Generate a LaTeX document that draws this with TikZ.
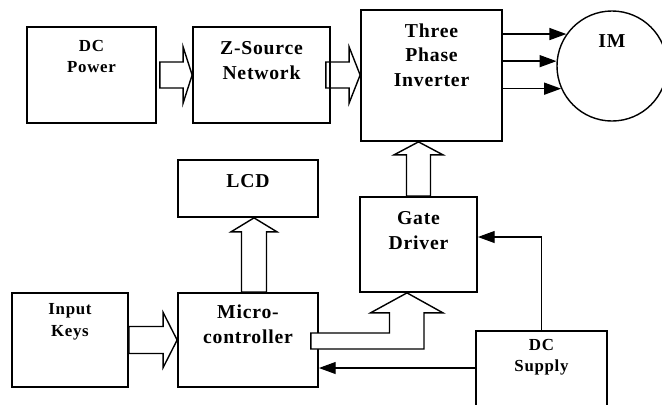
\documentclass[tikz,border=0pt]{standalone}
\usepackage{fontspec}
\setmainfont{Liberation Serif}[LetterSpace=4]
\usepackage{tikz}
\usetikzlibrary{arrows.meta, calc}

\begin{document}
\begin{tikzpicture}[x=0.025cm, y=-0.025cm,
  box/.style={draw, line width=1.2pt, inner sep=0pt},
  big/.style={font=\fontsize{14}{17.5}\selectfont\bfseries, align=center},
  small/.style={font=\fontsize{12}{15}\selectfont\bfseries, align=center},
  hollow/.style={draw, line width=1pt, line join=miter},
  feed/.style={-{Triangle[length=12pt, width=8.5pt]}, line width=1pt}
]
\path[use as bounding box, clip] (0,0) rectangle (662,404);
\fill[white] (0,0) rectangle (662,404);

% power path
\node[box, minimum width=3.225cm, minimum height=2.4cm,
      label={[small, anchor=center, yshift=-0.76cm]north:{DC\\Power}}] (dcpower) at (91.5,75) {};
\node[box, minimum width=3.425cm, minimum height=2.4cm,
      label={[big, anchor=center, yshift=-0.86cm]north:{Z-Source\\Network}}] (zsrc) at (261.5,75) {};
\node[box, minimum width=3.525cm, minimum height=3.275cm,
      label={[big, anchor=center, yshift=-1.15cm]north:{Three\\Phase\\Inverter}}] (inv) at (431.5,75.5) {};
\node[draw, circle, line width=1pt, minimum size=2.75cm,
      label={[big, anchor=center, yshift=-0.775cm]north:IM}] (im) at (612,66) {};

% control path
\node[box, minimum width=3.5cm, minimum height=1.425cm,
      label={[big, anchor=center, yshift=-0.55cm]north:LCD}] (lcd) at (248,188.5) {};
\node[box, minimum width=3.5cm, minimum height=2.35cm,
      label={[big, anchor=center, yshift=-0.81cm]north:{Micro-\\controller}}] (micro) at (248,340) {};
\node[box, minimum width=2.9cm, minimum height=2.35cm,
      label={[small, anchor=center, yshift=-0.74cm]north:{Input\\Keys}}] (keys) at (70,340) {};
\node[box, minimum width=2.925cm, minimum height=2.375cm,
      label={[big, anchor=center, yshift=-0.86cm]north:{Gate\\Driver}}] (gate) at (418.5,244.5) {};
\node[box, minimum width=3.275cm, minimum height=2.225cm,
      label={[small, anchor=center, yshift=-0.675cm]north:{DC\\Supply}}] (dcsup) at (541.5,375.5) {};

% tips of the wide arrows
\coordinate (ztip) at (inv.west |- zsrc.east);
\coordinate (ltip) at ($(lcd.south)+(6,0)$);
\coordinate (itip) at (gate.north |- inv.south);
\coordinate (gtip) at ($(gate.south)+(-11.5,0)$);

% wide arrows
\draw[hollow] ($(dcpower.east)+(3,-13)$) -- ($(zsrc.west)+(-9,-13)$) -- ++(0,-15)
  -- (zsrc.west) -- ++(-9,28) -- ++(0,-15) -- ($(dcpower.east)+(3,13)$) -- cycle;
\draw[hollow] ($(zsrc.east)+(-5,-13)$) -- ($(ztip)+(-11,-13)$) -- ++(0,-15)
  -- (ztip) -- ++(-11,28) -- ++(0,-15) -- ($(zsrc.east)+(-5,13)$) -- cycle;
\draw[hollow] ($(keys.east)+(0,-13.5)$) -- ($(micro.west)+(-14,-13.5)$) -- ++(0,-14)
  -- (micro.west) -- ++(-14,27.5) -- ++(0,-14) -- ($(keys.east)+(0,13.5)$) -- cycle;
\draw[hollow] ($(micro.north)+(-6.5,0)$) -- ($(ltip)+(-12.5,14)$) -- ++(-10.5,0)
  -- (ltip) -- ++(23,14) -- ++(-10.5,0) -- ($(micro.north)+(18.5,0)$) -- cycle;
\draw[hollow] ($(gate.north)+(-12,0)$) -- ($(itip)+(-12,13)$) -- ++(-12.5,0)
  -- (itip) -- ++(24.5,13) -- ++(-12.5,0) -- ($(gate.north)+(12,0)$) -- cycle;
\draw[hollow, fill=white] ($(micro.east)+(-8,-7)$) -| ($(gtip)+(-17.5,20)$) -- ++(-19,0)
  -- (gtip) -- ++(36,20) -- ++(-19,0) |- ($(micro.east)+(-8,9)$) -- cycle;

% thin arrows
\coordinate (mcin) at ($(micro.east)+(0,28)$);
\coordinate (ph1) at (im.145.7);
\coordinate (ph2) at (im.175.8);
\coordinate (ph3) at (im.-156.4);
\draw[feed] (dcsup.north) |- ($(gate.east)+(0,-7.5)$);
\draw[feed] (dcsup.west |- mcin) -- (mcin);
\draw[feed] (inv.east |- ph1) -- (ph1);
\draw[feed] (inv.east |- ph2) -- (ph2);
\draw[feed] (inv.east |- ph3) -- (ph3);
\end{tikzpicture}
\end{document}
